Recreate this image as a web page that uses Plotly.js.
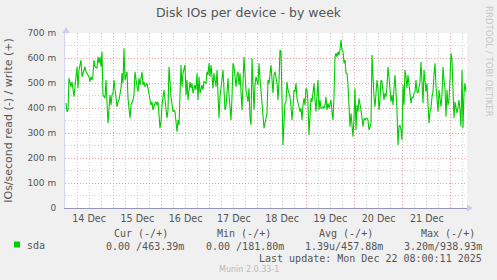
<!DOCTYPE html>
<html><head><meta charset="utf-8">
<script src="https://cdn.plot.ly/plotly-3.0.1.min.js"></script>
<style>html,body{margin:0;padding:0;background:#f0f0f0;}</style>
</head><body><div id="chart" style="width:497px;height:280px;"></div>
<script>
// ---- data ----
const chartTitle = 'Disk IOs per device - by week';
const yAxisTitle = 'IOs/second read (-) / write (+)';
const seriesName = 'sda';
const startTime = '2025-12-14 00:00';
const endTime = '2025-12-22 08:00';
const sampleStepMin = 29.85; // minutes between samples
const sampleIdx = [1,2,3,4,6,7,9,11,12,13,14,16,17,18,20,21,22,24,25,26,27,28,29,30,32,33,34,35,36,37,38,40,41,42,43,45,46,47,48,49,50,52,53,54,56,57,58,59,60,62,63,65,66,68,69,70,72,73,74,75,77,78,79,80,82,84,85,86,87,88,90,91,92,93,94,95,96,97,99,100,101,102,103,104,106,107,108,109,110,112,113,114,115,116,117,118,120,121,122,123,125,126,127,128,130,131,132,133,134,135,137,138,139,141,142,143,144,145,146,148,149,150,151,152,153,154,155,157,158,159,160,161,162,163,164,166,167,168,169,170,171,172,173,174,175,177,178,179,180,181,183,184,185,186,187,188,189,190,191,193,194,195,196,198,199,200,201,202,203,204,206,207,208,209,210,212,213,214,215,
216,217,218,219,220,221,222,223,224,225,226,227,228,229,230,231,232,234,235,236,237,238,239,240,241,242,243,244,245,246,247,248,249,250,251,252,253,254,255,256,257,258,259,260,261,262,263,264,265,266,267,268,269,270,271,272,273,274,275,276,277,278,279,280,281,282,283,284,285,286,287,288,289,290,291,292,293,294,296,297,298,299,300,301,302,303,304,305,306,307,308,309,310,311,312,313,314,315,316,317,318,319,320,321,322,323,324,325,326,327,328,329,330,331,332,333,334,335,336,337,338,339,340,341,342,343,344,345,346,347,348,349,350,351,352,353,354,355,356,357,358,359,360,361,362,363,364,365,366,367,368,369,370,371,372,373,374,375,376,377,378,379,380,381,382,383,384,385,386,387,388,389,390,391,392,393,394,395,396,397,398,399,400,401];
const writeVals = [420,385,392,519,485,505,445,539,565,479,552,592,525,539,565,545,539,525,505,525,512,532,592,565,559,605,579,605,565,625,452,439,512,445,339,452,412,452,459,512,479,405,425,432,479,539,499,639,512,545,439,359,412,432,452,545,485,465,519,492,545,492,505,485,499,452,445,412,425,392,419,425,412,425,372,319,345,412,472,425,392,359,392,565,445,399,385,392,385,305,352,332,445,572,485,539,572,452,512,432,505,479,499,459,492,472,539,432,525,459,492,472,505,499,545,532,579,525,572,479,539,512,485,552,465,359,445,512,552,472,392,405,452,519,452,352,445,579,565,505,485,532,545,492,539,392,525,605,539,472,425,479,359,332,599,445,392,492,525,492,579,519,465,372,319,339,365,379,512,499,572,499,459,532,545,499,432,505,632,
625,445,252,339,419,425,505,472,452,445,405,352,405,472,465,499,439,405,385,399,352,412,439,412,479,472,419,292,379,439,425,459,499,432,385,452,512,392,432,399,399,405,399,412,445,392,419,399,412,432,385,352,445,605,619,605,625,612,632,672,632,625,579,592,539,539,492,412,325,379,312,285,359,479,312,412,385,439,392,365,325,359,352,359,359,352,312,325,339,612,485,445,405,472,512,479,392,432,512,505,465,432,459,445,485,565,525,465,425,452,412,479,532,465,392,252,325,332,312,272,492,412,552,525,479,532,485,465,419,445,439,459,465,512,465,459,479,505,585,499,419,552,512,465,499,419,339,385,399,445,465,532,579,485,425,385,472,425,405,452,565,512,479,365,472,412,432,512,619,592,465,359,425,399,379,405,432,392,325,552,319,459,499,465]; // milli-IOs/s
const yTickVals = [0,100,200,300,400,500,600,700];
const yTickText = ['0','100 m','200 m','300 m','400 m','500 m','600 m','700 m'];
const legendHeaders = ['Cur (-/+)','Min (-/+)','Avg (-/+)','Max (-/+)'];
const legendValues = ['0.00 /463.39m','0.00 /181.80m','1.39u/457.88m','3.20m/938.93m'];
const lastUpdate = 'Last update: Mon Dec 22 08:00:11 2025';
const versionText = 'Munin 2.0.33-1';
const sideText = 'RRDTOOL / TOBI OETIKER';

// ---- layout geometry ----
const W = 497, H = 280, L = 65, R = 467, T = 33, B = 208;
const px = x => (x - L) / (R - L);
const py = y => (B - y) / (B - T);

const t0 = Date.UTC(2025, 11, 14, 0, 0);
const xTimes = sampleIdx.map(i => new Date(t0 + i * sampleStepMin * 60000).toISOString().replace('T',' ').replace('Z',''));

const mono = 'DejaVu Sans Mono, monospace';
const sans = 'DejaVu Sans, sans-serif';
const fc = '#555555';

const trace = {
  type: 'scatter', mode: 'lines', x: xTimes, y: writeVals, name: seriesName,
  line: {color: '#00cc00', width: 1.1}, showlegend: false, hoverinfo: 'skip'
};

const annotations = [];
const headerRight = [169, 272, 374, 476];
const valueRight = [185, 285, 384, 483];
legendHeaders.forEach((h, i) => annotations.push({
  xref:'paper', yref:'paper', x: px(headerRight[i]), y: py(233.5), xanchor:'right', yanchor:'middle',
  text: h, showarrow:false, font:{family:mono, size:10, color:fc}, borderpad:0
}));
legendValues.forEach((v, i) => annotations.push({
  xref:'paper', yref:'paper', x: px(valueRight[i]), y: py(246), xanchor:'right', yanchor:'middle',
  text: v, showarrow:false, font:{family:mono, size:10, color:fc}, borderpad:0
}));
annotations.push({xref:'paper', yref:'paper', x: px(26), y: py(245), xanchor:'left', yanchor:'middle',
  text: seriesName, showarrow:false, font:{family:mono, size:10, color:fc}, borderpad:0});
annotations.push({xref:'paper', yref:'paper', x: px(483), y: py(258), xanchor:'right', yanchor:'middle',
  text: lastUpdate, showarrow:false, font:{family:mono, size:10, color:fc}, borderpad:0});
annotations.push({xref:'paper', yref:'paper', x: px(248.5), y: py(269.5), xanchor:'center', yanchor:'middle',
  text: versionText, showarrow:false, font:{family:sans, size:8, color:'#bbbbbb'}, borderpad:0});
annotations.push({xref:'paper', yref:'paper', x: px(489), y: py(61), xanchor:'center', yanchor:'middle',
  text: sideText, textangle: 90, showarrow:false, font:{family:sans, size:8.6, color:'#c8c8c8'}, borderpad:0});

const arrowColor = '#c8cdf6';
const shapes = [
  {type:'rect', xref:'paper', yref:'paper', x0: px(14), x1: px(20), y0: py(247.5), y1: py(241.5),
   fillcolor:'#00cc00', line:{width:0}},
  {type:'path', xref:'paper', yref:'paper', fillcolor: arrowColor, line:{width:0},
   path:`M ${px(62.5)},${py(33)} L ${px(69.5)},${py(33)} L ${px(66)},${py(27)} Z`},
  {type:'path', xref:'paper', yref:'paper', fillcolor: arrowColor, line:{width:0},
   path:`M ${px(467)},${py(204.5)} L ${px(467)},${py(211.5)} L ${px(473)},${py(208)} Z`}
];

const layout = {
  width: W, height: H,
  paper_bgcolor: '#f0f0f0', plot_bgcolor: '#ffffff',
  margin: {l: L, r: W - R, t: T, b: H - B, pad: 0},
  font: {family: sans, color: fc},
  title: {text: chartTitle, font:{family: sans, size: 12.5, color: fc},
          xref:'container', yref:'container', x: 248.5 / W, y: 1 - 13 / H, xanchor:'center', yanchor:'middle'},
  xaxis: {
    type: 'date', range: [startTime, endTime], fixedrange: true,
    tick0: '2025-12-14', dtick: 86400000, ticklabelmode: 'period', tickformat: '%d %b',
    ticks: '', showgrid: true, gridcolor: '#f2a0a0', griddash: '1px,2px', gridwidth: 1,
    minor: {dtick: 6 * 3600000, tick0: '2025-12-14', showgrid: true, gridcolor: '#cfcfcf', griddash: '1px,2px', gridwidth: 1},
    showline: true, linecolor: '#9494b8', linewidth: 1, zeroline: false,
    tickfont: {family: sans, size: 9.6, color: fc}, ticklabelstandoff: 1
  },
  yaxis: {
    range: [0, 700], fixedrange: true,
    tickvals: yTickVals, ticktext: yTickText, ticks: '',
    showgrid: true, gridcolor: '#f2a0a0', griddash: '1px,2px', gridwidth: 1,
    minor: {dtick: 50, tick0: 0, showgrid: true, gridcolor: '#cfcfcf', griddash: '1px,2px', gridwidth: 1},
    showline: true, linecolor: '#cfd6f8', linewidth: 1, zeroline: false,
    tickfont: {family: sans, size: 9, color: fc}, ticklabelstandoff: 6,
    title: {text: yAxisTitle, font: {family: sans, size: 11, color: fc}, standoff: 12}
  },
  annotations: annotations,
  shapes: shapes,
  showlegend: false
};

Plotly.newPlot('chart', [trace], layout, {staticPlot: true, displayModeBar: false});
</script>
</body></html>
